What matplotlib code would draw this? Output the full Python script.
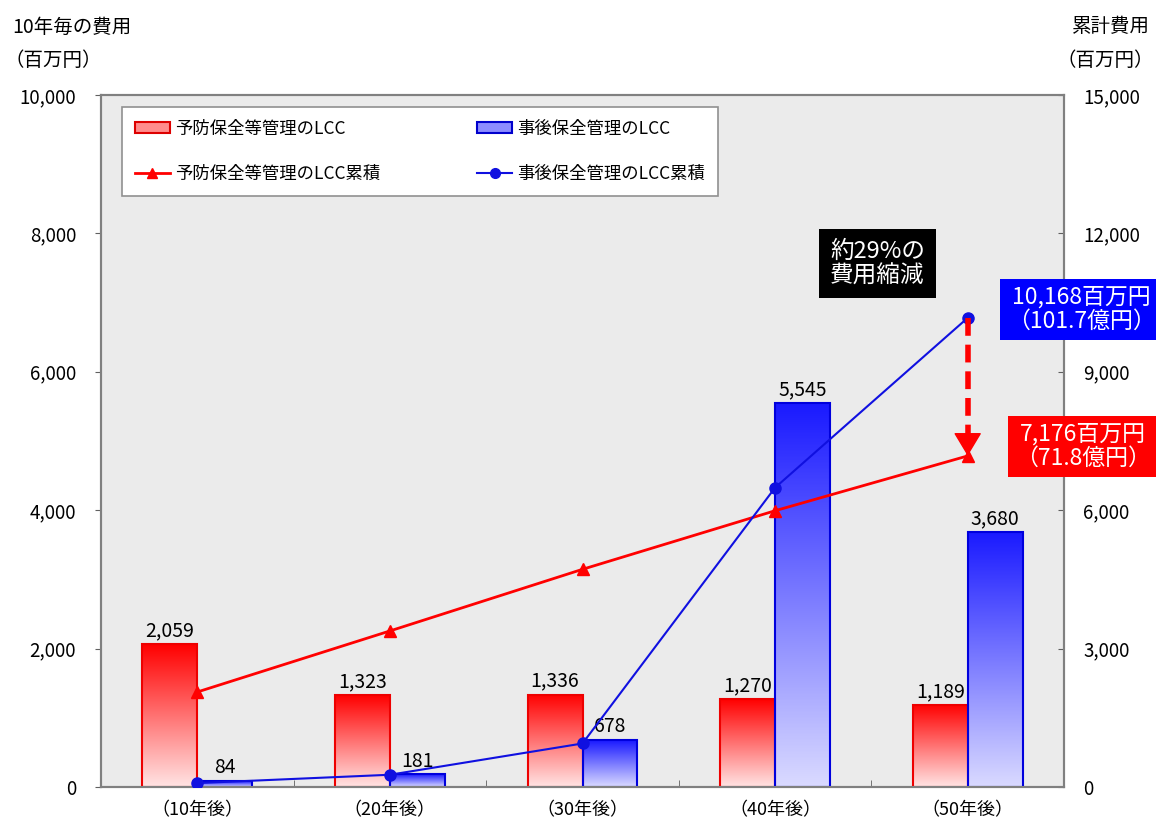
import numpy as np
import matplotlib.pyplot as plt
from matplotlib.colors import LinearSegmentedColormap
from matplotlib.lines import Line2D
from matplotlib.patches import Patch

plt.rcParams['font.family'] = ['Noto Sans CJK JP', 'DejaVu Sans']

# 10年毎の費用（百万円）
periods = ['（10年後）', '（20年後）', '（30年後）', '（40年後）', '（50年後）']
preventive = [2059, 1323, 1336, 1270, 1189]
reactive = [84, 181, 678, 5545, 3680]

# 累計費用（百万円）
preventive_cum = [2059, 3382, 4718, 5988, 7176]
reactive_cum = [84, 265, 943, 6488, 10168]

left_ticks = [0, 2000, 4000, 6000, 8000, 10000]
right_ticks = [0, 3000, 6000, 9000, 12000, 15000]

series_names = ['予防保全等管理のLCC', '事後保全管理のLCC',
                '予防保全等管理のLCC累積', '事後保全管理のLCC累積']

RED = '#ff0000'
BLUE = '#0000ff'
W = 0.285


def gradient_bars(ax, xs, heights, top, bottom, edge):
    cmap = LinearSegmentedColormap.from_list('grad', [bottom, top])
    grad = np.linspace(0, 1, 256).reshape(-1, 1)
    bars = ax.bar(xs, heights, width=W, align='edge', facecolor='none',
                  edgecolor=edge, linewidth=1.5, zorder=3)
    for b in bars:
        x0, y0 = b.get_x(), b.get_y()
        im = ax.imshow(grad, cmap=cmap, origin='lower', aspect='auto',
                       extent=[x0, x0 + b.get_width(), y0, y0 + b.get_height()],
                       zorder=2)
        im.set_clip_path(b)
        ax.annotate(f'{int(b.get_height()):,}', (x0 + W / 2, y0 + b.get_height()),
                    xytext=(0, 2), textcoords='offset points',
                    ha='center', va='bottom', fontsize=14, zorder=5)
    return bars


fig = plt.figure(figsize=(11.56, 8.27), dpi=100)
ax = fig.add_axes([0.0874, 0.0484, 0.833, 0.8368])
ax.set_facecolor('#ebebeb')
ax2 = ax.twinx()

x = np.arange(len(periods))
gradient_bars(ax, x - W, preventive, RED, '#ffe4e4', '#ee0000')
gradient_bars(ax, x, reactive, '#1a1aff', '#dadaff', '#0000dd')

ax.set_xlim(-0.5, len(periods) - 0.5)
ax.set_ylim(left_ticks[0], left_ticks[-1])
ax.set_yticks(left_ticks)
ax.set_yticklabels([f'{v:,}' for v in left_ticks])
ax.set_xticks(x)
ax.set_xticklabels(periods)
ax.set_xticks(x[:-1] + 0.5, minor=True)
ax.tick_params(axis='x', which='major', length=0, pad=10, labelsize=13)
ax.tick_params(axis='x', which='minor', direction='in', length=5, color='#606060')
ax.tick_params(axis='y', direction='out', length=4, pad=14, labelsize=13.5, color='#606060')

# 累計の折れ線
ax2.plot(x, preventive_cum, color=RED, lw=2, marker='^', ms=8, zorder=4)
ax2.plot(x, reactive_cum, color='#1010e0', lw=1.5, marker='o', ms=8, zorder=4)
ax2.set_ylim(right_ticks[0], right_ticks[-1])
ax2.set_yticks(right_ticks)
ax2.set_yticklabels([f'{v:,}' for v in right_ticks])
ax2.tick_params(axis='y', direction='in', length=4, pad=14, labelsize=13.5, color='#606060')

for a in (ax, ax2):
    for s in a.spines.values():
        s.set_color('#808080')
        s.set_linewidth(1.5)

# 削減を示す破線矢印
ax2.plot([x[-1], x[-1]], [reactive_cum[-1], preventive_cum[-1] + 350],
         color=RED, lw=4, ls=(0, (3.2, 1.6)), zorder=5)
ax2.annotate('', xy=(x[-1], preventive_cum[-1]), xytext=(0, 16),
             textcoords='offset points',
             arrowprops=dict(arrowstyle='-|>,head_length=1.5,head_width=0.9',
                             color=RED, lw=1, shrinkA=0, shrinkB=0), zorder=6)

ax2.annotate('約29%の\n費用縮減', (x[-1], reactive_cum[-1]), xytext=(-65, 39),
             textcoords='offset points', ha='center', va='center',
             color='white', fontsize=17, linespacing=1.1,
             bbox=dict(boxstyle='square,pad=0.45', fc='black', ec='none'))
ax2.annotate(f'{reactive_cum[-1]:,}百万円\n（{reactive_cum[-1] / 100:.1f}億円）',
             (x[-1], reactive_cum[-1]), xytext=(82, 6),
             textcoords='offset points', ha='center', va='center',
             color='white', fontsize=16.5, linespacing=1.05, annotation_clip=False,
             bbox=dict(boxstyle='square,pad=0.3', fc=BLUE, ec='none'))
ax2.annotate(f'{preventive_cum[-1]:,}百万円\n（{preventive_cum[-1] / 100:.1f}億円）',
             (x[-1], preventive_cum[-1]), xytext=(83, 7),
             textcoords='offset points', ha='center', va='center',
             color='white', fontsize=16.5, linespacing=1.05, annotation_clip=False,
             bbox=dict(boxstyle='square,pad=0.3', fc=RED, ec='none'))

handles = [
    Patch(facecolor='#ff8c8c', edgecolor='#dd0000', linewidth=1.5),
    Line2D([], [], color=RED, lw=2, marker='^', ms=7),
    Patch(facecolor='#8c8cff', edgecolor='#0000cc', linewidth=1.5),
    Line2D([], [], color='#1010e0', lw=1.5, marker='o', ms=7),
]
labels = [series_names[0], series_names[2], series_names[1], series_names[3]]
leg = ax2.legend(handles, labels, ncol=2, loc='upper left',
                 bbox_to_anchor=(0.0218, 0.983),
                 borderaxespad=0, fontsize=12.5, fancybox=False, framealpha=1,
                 edgecolor='#909090', labelspacing=1.55, borderpad=0.75,
                 handlelength=2.0, handleheight=0.6, handletextpad=0.3,
                 columnspacing=5.6)
leg.get_frame().set_linewidth(1.2)
leg.set_zorder(10)

fig.text(12 / 1156, 1 - 27 / 827, '10年毎の費用', fontsize=14, va='center')
fig.text(5 / 1156, 1 - 60 / 827, '（百万円）', fontsize=14, va='center')
fig.text(1072 / 1156, 1 - 27 / 827, '累計費用', fontsize=14, va='center')
fig.text(1154 / 1156, 1 - 60 / 827, '（百万円）', fontsize=14, va='center', ha='right')

fig.savefig('out.png', dpi=100)
